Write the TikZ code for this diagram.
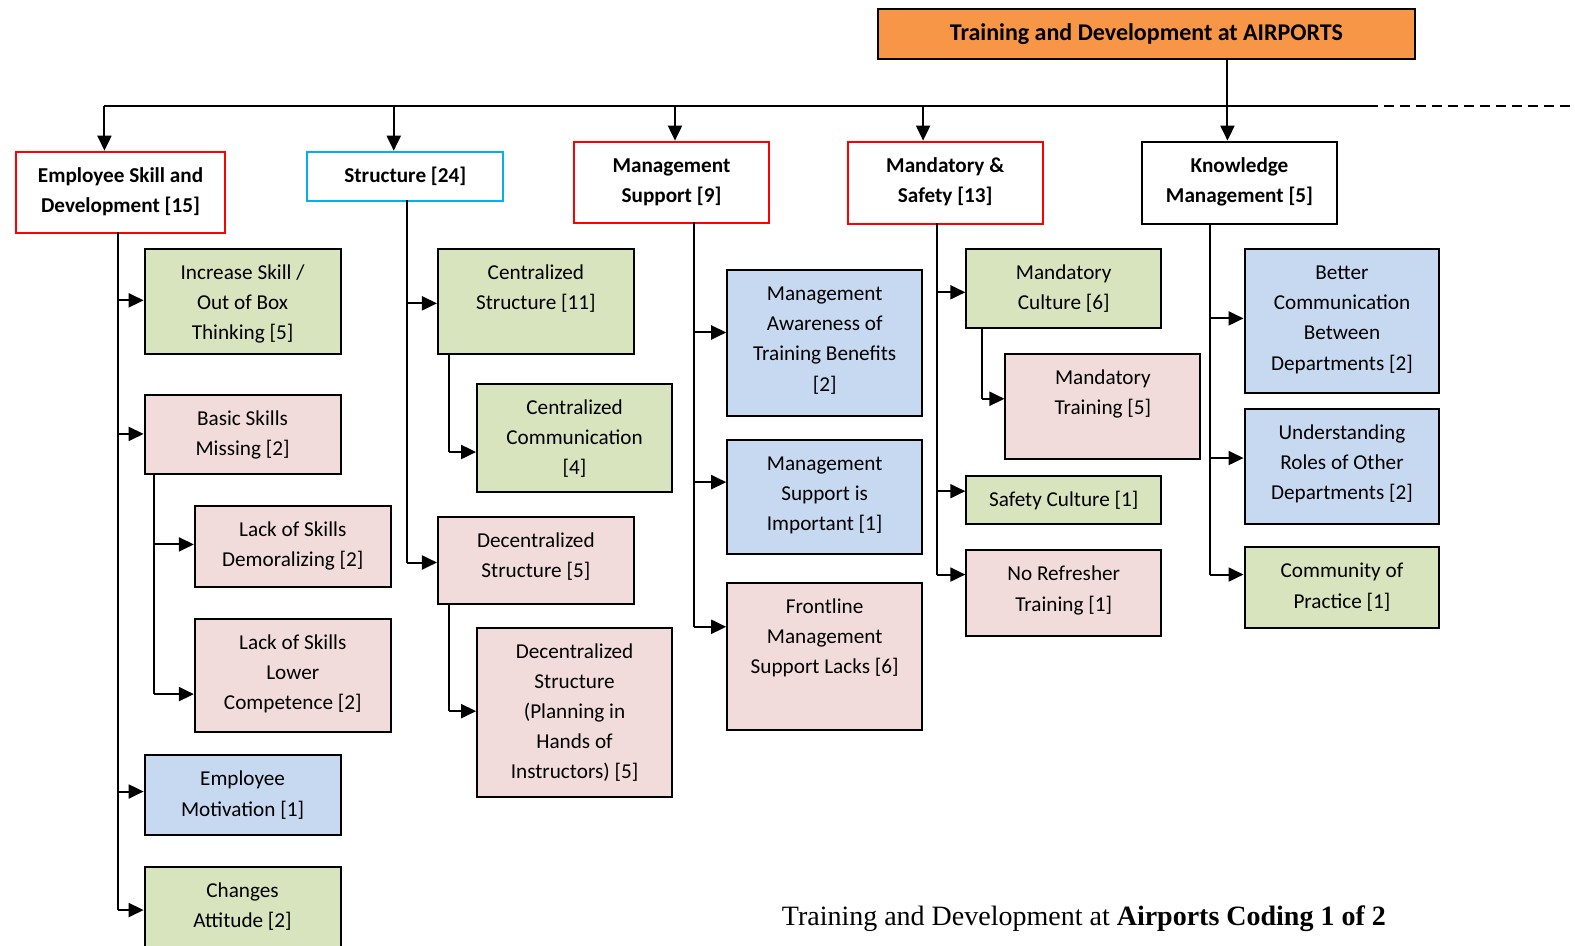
\documentclass[tikz,border=0pt]{standalone}
\usepackage{fontspec}
\setmainfont{Carlito}
\newfontfamily\capfont{Liberation Serif}
\usetikzlibrary{arrows.meta}
\definecolor{boxgreen}{HTML}{D7E4BD}
\definecolor{boxpink}{HTML}{F2DCDB}
\definecolor{boxblue}{HTML}{C6D9F1}
\definecolor{titleorange}{HTML}{F79646}
\definecolor{hdrred}{HTML}{FF0000}
\definecolor{hdrcyan}{HTML}{00B0F0}
\tikzset{
  frame/.style={draw=black, line width=1pt},
  gbox/.style={frame, fill=boxgreen},
  pbox/.style={frame, fill=boxpink},
  bbox/.style={frame, fill=boxblue},
  redhdr/.style={draw=hdrred, line width=1pt, fill=white},
  cyanhdr/.style={draw=hdrcyan, line width=1pt, fill=white},
  blackhdr/.style={draw=black, line width=1pt, fill=white},
  txt/.style={align=center, inner sep=0pt, font=\fontsize{10.6}{15.07}\selectfont},
  htxt/.style={align=center, inner sep=0pt, font=\fontsize{10.6}{15.07}\selectfont\bfseries},
  link/.style={line width=1pt},
  sublink/.style={line width=0.9pt},
  arr/.style={line width=1pt, -{Triangle[length=7.5pt,width=7pt]}},
}
% box with top-aligned text: name, x1, y1, x2, y2, box style, text style, text
\newcommand\bx[8]{%
  \node[#6, anchor=north west, inner sep=0pt,
        minimum width={(#4-#2)*0.50223pt}, minimum height={(#5-#3)*0.50223pt}]
        (#1) at (#2,#3) {};
  \node[#7, anchor=north] (#1-t) at ([yshift=-5pt]#1.north) {\strut #8};
}
% branch arrow from a spine to a box, at height y: spine, box, y
\newcommand\br[3]{%
  \coordinate (lvl) at (0,#3);
  \draw[arr] (#1 |- lvl) -- (#2.west |- lvl);
}
\begin{document}
\begin{tikzpicture}[x=0.50223pt, y=-0.50223pt]
\clip (0,0) rectangle (1568,941);

% title
\node[draw=black, line width=0.8pt, fill=titleorange, anchor=north west, inner sep=0pt,
      minimum width={535*0.50223pt}, minimum height={50*0.50223pt},
      font=\fontsize{12}{14}\selectfont\bfseries] (title) at (873,8)
      {Training and Development at AIRPORTS};

% category headers
\bx{h1}{15}{150}{223}{231}{redhdr}{htxt}{Employee Skill and\\Development [15]}
\bx{h2}{305}{150}{500}{199}{cyanhdr}{htxt}{Structure [24]}
\bx{h3}{570}{140}{765}{221}{redhdr}{htxt}{Management\\Support [9]}
\bx{h4}{843}{140}{1037}{222}{redhdr}{htxt}{Mandatory \&\\Safety [13]}
\bx{h5}{1136}{140}{1330}{222}{blackhdr}{htxt}{Knowledge\\Management [5]}

% employee skill codes
\bx{a1}{143}{247}{338}{351}{gbox}{txt}{Increase Skill /\\Out of Box\\Thinking [5]}
\bx{a2}{143}{392}{338}{471}{pbox}{txt}{Basic Skills\\Missing [2]}
\bx{a3}{193}{503}{388}{583}{pbox}{txt}{Lack of Skills\\Demoralizing [2]}
\bx{a4}{193}{615}{388}{728}{pbox}{txt}{Lack of Skills\\Lower\\Competence [2]}
\bx{a5}{143}{751}{338}{830}{bbox}{txt}{Employee\\Motivation [1]}
\bx{a6}{143}{862}{338}{960}{gbox}{txt}{Changes\\Attitude [2]}

% structure codes
\bx{b1}{435}{247}{630}{351}{gbox}{txt}{Centralized\\Structure [11]}
\bx{b2}{474}{381}{668}{489}{gbox}{txt}{Centralized\\Communication\\{}[4]}
\bx{b3}{435}{514}{630}{600}{pbox}{txt}{Decentralized\\Structure [5]}
\bx{b4}{474}{624}{668}{792}{pbox}{txt}{Decentralized\\Structure\\(Planning in\\Hands of\\Instructors) [5]}

% management support codes
\bx{m1}{723}{268}{917}{413}{bbox}{txt}{Management\\Awareness of\\Training Benefits\\{}[2]}
\bx{m2}{723}{437}{917}{551}{bbox}{txt}{Management\\Support is\\Important [1]}
\bx{m3}{723}{579}{917}{726}{pbox}{txt}{Frontline\\Management\\Support Lacks [6]}

% mandatory and safety codes
\bx{s1}{961}{247}{1155}{326}{gbox}{txt}{Mandatory\\Culture [6]}
\bx{s2}{1000}{351}{1194}{456}{pbox}{txt}{Mandatory\\Training [5]}
\bx{s3}{961}{473}{1155}{521}{gbox}{txt}{Safety Culture [1]}
\bx{s4}{961}{547}{1155}{632}{pbox}{txt}{No Refresher\\Training [1]}

% knowledge management codes
\bx{k1}{1238}{247}{1432}{390}{bbox}{txt}{Better\\Communication\\Between\\Departments [2]}
\bx{k2}{1238}{406}{1432}{521}{bbox}{txt}{Understanding\\Roles of Other\\Departments [2]}
\bx{k3}{1238}{544}{1432}{624}{gbox}{txt}{Community of\\Practice [1]}

% distribution bus
\coordinate (bus1) at (104,106);
\coordinate (bus2) at (392,106);
\coordinate (bus3) at (672,106);
\coordinate (bus4) at (919,106);
\coordinate (bus5) at (1222,106);
\coordinate (busend) at (1362,106);
\coordinate (busfar) at (1568,106);
\draw[link] (bus1) -- (busend);
\draw[link, dash pattern=on 5pt off 3pt] (busend) -- (busfar);
\draw[arr] (title.south -| bus5) -- (bus5 |- h5.north);
\draw[arr] (bus1) -- (bus1 |- h1.north);
\draw[arr] (bus2) -- (bus2 |- h2.north);
\draw[arr] (bus3) -- (bus3 |- h3.north);
\draw[arr] (bus4) -- (bus4 |- h4.north);

% spine tops
\coordinate (v1) at (117,231);
\coordinate (v2) at (405,199);
\coordinate (v3) at (691,221);
\coordinate (v4) at (933,222);
\coordinate (v5) at (1205,222);
\coordinate (v1b) at (153,471);
\coordinate (v2a) at (447,351);
\coordinate (v2b) at (447,600);
\coordinate (v4a) at (978,326);

% column 1
\draw[link] (v1) -- (v1 |- 0,906);
\br{v1}{a1}{299}
\br{v1}{a2}{432}
\br{v1}{a5}{788}
\br{v1}{a6}{906}
\draw[sublink] (v1b) -- (v1b |- 0,691);
\br{v1b}{a3}{542}
\br{v1b}{a4}{691}

% column 2
\draw[link] (v2) -- (v2 |- 0,560);
\br{v2}{b1}{302}
\br{v2}{b3}{560}
\draw[sublink] (v2a) -- (v2a |- 0,450);
\br{v2a}{b2}{450}
\draw[sublink] (v2b) -- (v2b |- 0,708);
\br{v2b}{b4}{708}

% column 3
\draw[link] (v3) -- (v3 |- 0,624);
\br{v3}{m1}{331}
\br{v3}{m2}{480}
\br{v3}{m3}{624}

% column 4
\draw[link] (v4) -- (v4 |- 0,572);
\br{v4}{s1}{291}
\br{v4}{s3}{489}
\br{v4}{s4}{572}
\draw[sublink] (v4a) -- (v4a |- 0,397);
\br{v4a}{s2}{397}

% column 5
\draw[link] (v5) -- (v5 |- 0,572);
\br{v5}{k1}{317}
\br{v5}{k2}{456}
\br{v5}{k3}{572}

% caption
\node[anchor=base west, inner sep=0pt, font=\capfont\fontsize{14}{17}\selectfont]
  (cap) at (778,921) {Training and Development at \textbf{Airports Coding 1 of 2}};
\end{tikzpicture}
\end{document}
